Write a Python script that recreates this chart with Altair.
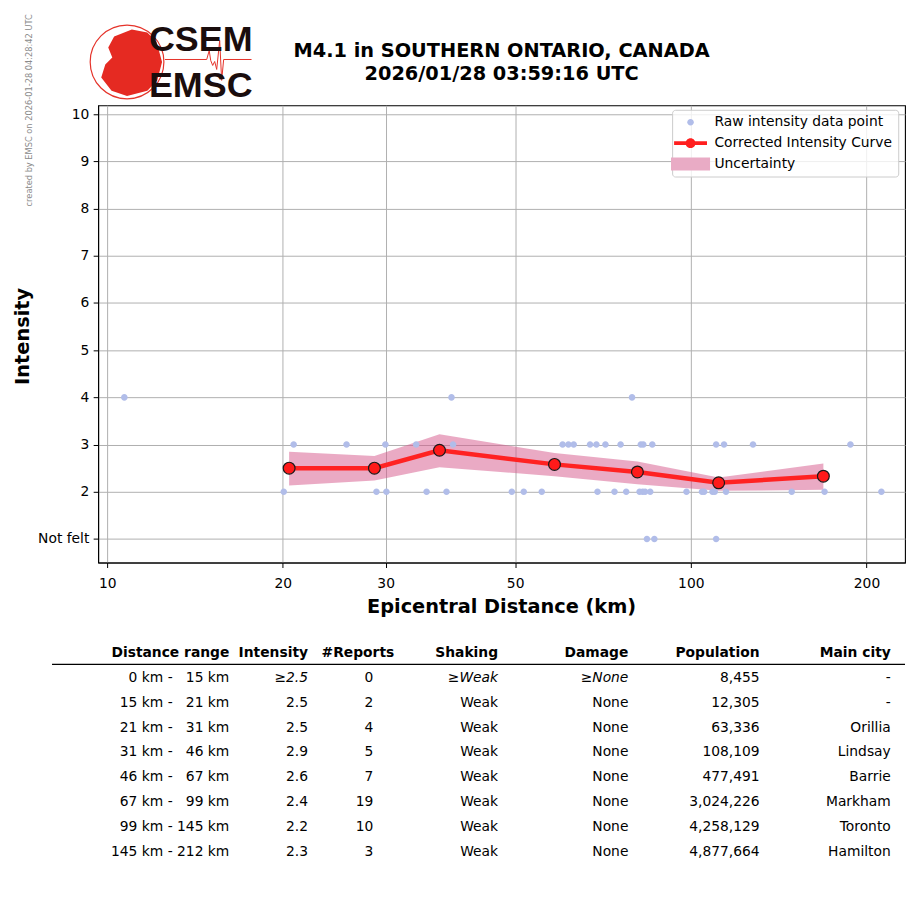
import altair as alt
import pandas as pd

# ---------------- chart data ----------------
RAW_DIST = [10.7, 38.9, 79.3,
            20.87, 25.71, 29.97, 33.84, 39.14, 60.3, 61.7, 63.0, 67.2, 68.9, 71.4,
            75.8, 82.1, 82.9, 85.9, 110.5, 114.0, 127.8, 187.7,
            20.07, 28.93, 30.09, 35.26, 38.14, 49.35, 51.73, 55.54, 69.2, 74.0,
            77.5, 81.7, 82.7, 83.5, 85.2, 98.3, 104.5, 105.4, 108.9, 109.9, 114.9,
            148.9, 169.5, 212.1,
            84.1, 86.6, 110.5]
RAW_INT = [4, 4, 4,
           3, 3, 3, 3, 3, 3, 3, 3, 3, 3, 3,
           3, 3, 3, 3, 3, 3, 3, 3,
           2, 2, 2, 2, 2, 2, 2, 2, 2, 2,
           2, 2, 2, 2, 2, 2, 2, 2, 2, 2, 2,
           2, 2, 2,
           1, 1, 1]

CURVE_DIST = [20.5, 28.7, 37.1, 58.4, 81.0, 111.6, 168.7]
CURVE_INT = [2.50, 2.50, 2.88, 2.58, 2.42, 2.19, 2.33]
BAND_LO = [2.13, 2.24, 2.52, 2.33, 2.16, 2.02, 2.04]
BAND_HI = [2.85, 2.76, 3.22, 2.82, 2.64, 2.30, 2.60]

X_TICKS = [10, 20, 30, 50, 100, 200]
Y_TICKS = [1, 2, 3, 4, 5, 6, 7, 8, 9, 10]
NOT_FELT = "Not felt"

SERIES = ["Raw intensity data point", "Corrected Intensity Curve", "Uncertainty"]
SERIES_COLORS = ["#b1bde9", "#ff1f1f", "#e9abc5"]

TITLE_LINES = ["M4.1 in SOUTHERN ONTARIO, CANADA", "2026/01/28 03:59:16 UTC"]
X_TITLE = "Epicentral Distance (km)"
Y_TITLE = "Intensity"
CREATED = "created by EMSC on 2026-01-28 04:28:42 UTC"
LOGO_TOP = "CSEM"
LOGO_BOTTOM = "EMSC"

# ---------------- table data ----------------
HEADERS = ["Distance range", "Intensity", "#Reports", "Shaking", "Damage", "Population", "Main city"]
NB = "\u00a0"
COL_DIST = ["0 km -" + NB * 3 + "15 km", "15 km -" + NB * 3 + "21 km", "21 km -" + NB * 3 + "31 km",
            "31 km -" + NB * 3 + "46 km", "46 km -" + NB * 3 + "67 km", "67 km -" + NB * 3 + "99 km",
            "99 km - 145 km", "145 km - 212 km"]
COL_INT = ["\u22652.5", "2.5", "2.5", "2.9", "2.6", "2.4", "2.2", "2.3"]
COL_REP = ["0", "2", "4", "5", "7", "19", "10", "3"]
COL_SHAKE = ["\u2265Weak", "Weak", "Weak", "Weak", "Weak", "Weak", "Weak", "Weak"]
COL_DMG = ["\u2265None", "None", "None", "None", "None", "None", "None", "None"]
COL_POP = ["8,455", "12,305", "63,336", "108,109", "477,491", "3,024,226", "4,258,129", "4,877,664"]
COL_CITY = ["-", "-", "Orillia", "Lindsay", "Barrie", "Markham", "Toronto", "Hamilton"]
ITALIC_FIRST_ROW = ["Intensity", "Shaking", "Damage"]

# ---------------- layout / styling ----------------
FONT = "DejaVu Sans"
W, H = 810, 459
TABLE_H = 225
# right edge of the text in each table column (header, values), px from the table's left edge
TABLE_HEADER_RIGHT = [131.7, 210.7, 297.3, 401.5, 532.3, 664.0, 795.7]
TABLE_VALUE_RIGHT = [131.7, 210.7, 276.3, 401.5, 532.3, 664.0, 795.7]

PATH_RAW = "M-0.47,0 A0.47,0.47 0 1,1 0.47,0 A0.47,0.47 0 1,1 -0.47,0 Z"
PATH_CURVE = ("M-2.36,-0.27 L2.36,-0.27 L2.36,0.27 L-2.36,0.27 Z "
              "M-0.71,0 A0.71,0.71 0 1,1 0.71,0 A0.71,0.71 0 1,1 -0.71,0 Z")
PATH_UNC = "M-2.8,-0.93 L2.8,-0.93 L2.8,0.93 L-2.8,0.93 Z"
GLOBE_PATH = ("M-0.35,-0.69 L0.13,-0.88 L0.55,-0.8 L0.8,-0.55 L0.95,0 L0.82,0.5 "
              "L0.55,0.78 L0,0.92 L-0.42,0.78 L-0.7,0.42 L-0.59,0.07 L-0.4,-0.12 L-0.51,-0.39 Z")
SEISMO_PATH = ("M-0.87,0 L-0.03,0 L0.02,-0.18 L0.05,0.02 L0.09,0.12 L0.13,0.04 "
               "L0.17,0.2 L0.23,-0.38 L0.27,0.42 L0.31,0 L0.87,0")

raw_df = pd.DataFrame({"dist": RAW_DIST, "val": RAW_INT, "series": SERIES[0]})
curve_df = pd.DataFrame({"dist": CURVE_DIST, "val": CURVE_INT})
band_df = pd.DataFrame({"dist": CURVE_DIST, "lo": BAND_LO, "hi": BAND_HI})
one = pd.DataFrame({"k": [0]})

xscale = alt.Scale(type="log", domain=[9.65, 232.8], nice=False)
yscale = alt.Scale(domain=[0.5, 10.19], nice=False, zero=False)
xaxis = alt.Axis(values=X_TICKS, format="d", title=X_TITLE, grid=True, gridColor="#b0b0b0",
                 gridWidth=1, domainColor="black", tickColor="black", tickSize=5,
                 labelPadding=9, labelFlush=False, labelOverlap=False, labelFont=FONT,
                 labelFontSize=13.9, labelColor="black", titleFont=FONT, titleFontSize=19.4,
                 titleFontWeight="bold", titleColor="black", titleX=404.5, titleY=50,
                 titleBaseline="alphabetic", titleAlign="center")
yaxis = alt.Axis(values=Y_TICKS, title=Y_TITLE, grid=True, gridColor="#b0b0b0", gridWidth=1,
                 domainColor="black", tickColor="black", tickSize=5, labelPadding=4.3,
                 labelFont=FONT, labelFontSize=13.9, labelColor="black",
                 labelExpr="datum.value == 1 ? '" + NOT_FELT + "' : datum.label",
                 titleFont=FONT, titleFontSize=19.4, titleFontWeight="bold", titleColor="black",
                 titleX=-69.5, titleY=231.5, titleAngle=270, titleAlign="center",
                 titleBaseline="alphabetic")
X = alt.X("dist:Q", scale=xscale, axis=xaxis)

legend = alt.Legend(orient="none", legendX=576.2, legendY=4.5, title=None,
                    fillColor="rgba(255,255,255,0.8)", strokeColor="#cccccc", cornerRadius=3,
                    padding=5.5, labelFont=FONT, labelFontSize=13.9, labelColor="black",
                    labelLimit=0, symbolSize=196, symbolStrokeWidth=0, symbolOpacity=1,
                    rowPadding=7, labelOffset=17, symbolOffset=6)

band = alt.Chart(band_df).mark_area(color="#d6558a", opacity=0.5).encode(
    x=X, y=alt.Y("lo:Q", scale=yscale, axis=yaxis), y2="hi:Q")

raw = alt.Chart(raw_df).mark_point(filled=True, opacity=1, size=196, strokeWidth=0).encode(
    x=X, y=alt.Y("val:Q", scale=yscale, axis=yaxis),
    color=alt.Color("series:N", scale=alt.Scale(domain=SERIES, range=SERIES_COLORS), legend=legend),
    shape=alt.Shape("series:N", scale=alt.Scale(domain=SERIES, range=[PATH_RAW, PATH_CURVE, PATH_UNC]),
                    legend=legend))

line = alt.Chart(curve_df).mark_line(color="#ff2222", strokeWidth=4.5).encode(
    x=X, y=alt.Y("val:Q", scale=yscale, axis=yaxis))
markers = alt.Chart(curve_df).mark_circle(size=140, color="#ff1a1a", stroke="#1a1a1a",
                                          strokeWidth=1.2, opacity=1).encode(
    x=X, y=alt.Y("val:Q", scale=yscale, axis=yaxis))

# ---- header decorations (logo, title, stamp) ----
ring = alt.Chart(one).mark_point(shape="circle", size=5476, filled=False, color="#e5332a",
                                 strokeWidth=1.2, opacity=1).encode(x=alt.value(29), y=alt.value(-43.5))
globe = alt.Chart(one).mark_point(shape=GLOBE_PATH, size=5476, filled=True, color="#e52a22",
                                  strokeWidth=0, opacity=1).encode(x=alt.value(29), y=alt.value(-43.5))
seismo = alt.Chart(one).mark_point(shape=SEISMO_PATH, size=10000, filled=False, color="#e5332a",
                                   strokeWidth=1, opacity=1).encode(x=alt.value(110.5), y=alt.value(-46))
logo1 = alt.Chart(one).mark_text(text=LOGO_TOP, font="Liberation Sans", fontSize=36, fontWeight="bold",
                                 color="#1a0d0d", align="left", baseline="alphabetic").encode(
    x=alt.value(51), y=alt.value(-55))
logo2 = alt.Chart(one).mark_text(text=LOGO_BOTTOM, font="Liberation Sans", fontSize=36, fontWeight="bold",
                                 color="#1a0d0d", align="left", baseline="alphabetic").encode(
    x=alt.value(51), y=alt.value(-8))
title = alt.Chart(one).mark_text(text=TITLE_LINES, font=FONT, fontSize=19.4, fontWeight="bold",
                                 color="black", align="center", baseline="alphabetic",
                                 lineHeight=23).encode(x=alt.value(405), y=alt.value(-48.9))
stamp = alt.Chart(one).mark_text(text=CREATED, font=FONT, fontSize=8.3, color="#8a8a8a", angle=270,
                                 align="center", baseline="alphabetic").encode(
    x=alt.value(-66.3), y=alt.value(5))

main = alt.layer(band, raw, line, markers, ring, globe, seismo, logo1, logo2, title, stamp).properties(
    width=W, height=H, view=alt.ViewBackground(stroke="black", strokeWidth=1.1))

# ---------------- table ----------------
cols = [COL_DIST, COL_INT, COL_REP, COL_SHAKE, COL_DMG, COL_POP, COL_CITY]
hdr_rows, body_rows, ital_rows = [], [], []
for c, (h, vals) in enumerate(zip(HEADERS, cols)):
    hdr_rows.append({"xpos": TABLE_HEADER_RIGHT[c], "row": 0, "txt": h})
    for i, v in enumerate(vals):
        rec = {"xpos": TABLE_VALUE_RIGHT[c], "row": i + 1, "txt": v}
        if i == 0 and h in ITALIC_FIRST_ROW:
            ital_rows.append(rec)
        else:
            body_rows.append(rec)

TX = alt.X("xpos:Q", scale=alt.Scale(domain=[0, W], range=[0, W], nice=False, zero=False), axis=None)
TY = alt.Y("row:O", scale=alt.Scale(type="point", domain=list(range(9)), padding=0.5), axis=None)


def ttext(rows, **kw):
    return alt.Chart(pd.DataFrame(rows)).mark_text(font=FONT, fontSize=13.9, color="black", align="right",
                                                   baseline="alphabetic", **kw).encode(
        x=TX, y=TY, text="txt:N")


t_hdr = ttext(hdr_rows, fontWeight="bold")
t_body = ttext(body_rows)
t_ital = ttext(ital_rows, fontStyle="italic")
t_rule = alt.Chart(one).mark_rule(color="black", strokeWidth=1.3).encode(
    x=alt.value(-46.3), x2=alt.value(W), y=alt.value(20.1))

table = alt.layer(t_rule, t_hdr, t_body, t_ital).properties(
    width=W, height=TABLE_H, view=alt.ViewBackground(stroke="transparent"))

chart = alt.vconcat(main, table, spacing=82.2, bounds="flush").properties(
    padding={"left": 3.5, "top": 3, "right": 0, "bottom": 4})

chart.save("out.html", embed_options={"renderer": "svg", "actions": False})
